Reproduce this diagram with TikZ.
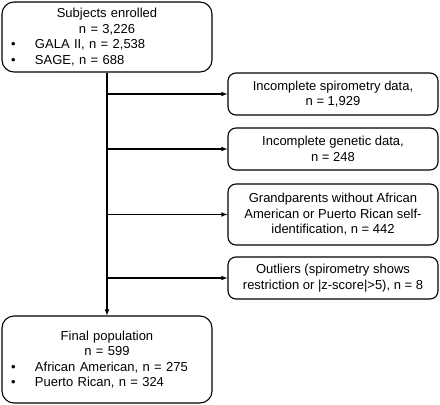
\documentclass[tikz,border=0pt]{standalone}
\usepackage{fontspec}
\setmainfont{Liberation Sans}
\usetikzlibrary{positioning}

\newcommand{\bulletline}[1]{\hspace*{4pt}\makebox[24pt][l]{\textbullet}#1}
\newcommand{\midline}[1]{\makebox[200pt][c]{#1}}

\begin{document}
\begin{tikzpicture}[>=latex, x=1pt, y=-1pt,
    every node/.style={font=\fontsize{13}{15.5}\selectfont},
    flowbox/.style={draw, line width=1.1pt, rounded corners=8pt, inner sep=0pt, align=center},
    bigbox/.style={flowbox, rounded corners=12pt, minimum width=210pt, text width=200pt, align=left},
    sidebox/.style={flowbox, minimum width=210pt},
    flow/.style={line width=1.1pt}]
  \useasboundingbox (0,0) rectangle (440,405);

  % Main boxes
  \node[bigbox, minimum height=70pt] (enrolled) at (107,37)
    {\midline{Subjects enrolled}\\ \midline{n = 3,226}\\
     \bulletline{GALA II, n = 2,538}\\ \bulletline{SAGE, n = 688}};
  \node[bigbox, minimum height=87pt] (final) at (107,359.5)
    {\midline{Final population}\\ \midline{n = 599}\\
     \bulletline{African American, n = 275}\\ \bulletline{Puerto Rican, n = 324}};

  % Exclusion boxes
  \node[sidebox, minimum height=42pt] (spiro) at (333,94)
    {Incomplete spirometry data,\\ n = 1,929};
  \node[sidebox, minimum height=42pt] (genetic) at (333,149)
    {Incomplete genetic data,\\ n = 248};
  \node[sidebox, minimum height=61pt] (grand) at (333,214.5)
    {Grandparents without African\\ American or Puerto Rican self-\\ identification, n = 442};
  \node[sidebox, minimum height=42pt] (outliers) at (333,278)
    {Outliers (spirometry shows\\ restriction or |z-score|>5), n = 8};

  % Main trunk
  \draw[flow, ->] (enrolled) -- (final);

  % Branches
  \coordinate (b1) at (enrolled.south |- spiro.west);
  \coordinate (b2) at (enrolled.south |- genetic.west);
  \coordinate (b3) at (enrolled.south |- grand.west);
  \coordinate (b4) at (enrolled.south |- outliers.west);
  \draw[flow, ->] (b1) -- (spiro);
  \draw[flow, ->] (b2) -- (genetic);
  \draw[flow, ->] (b3) -- (grand);
  \draw[flow, ->] (b4) -- (outliers);
\end{tikzpicture}
\end{document}
